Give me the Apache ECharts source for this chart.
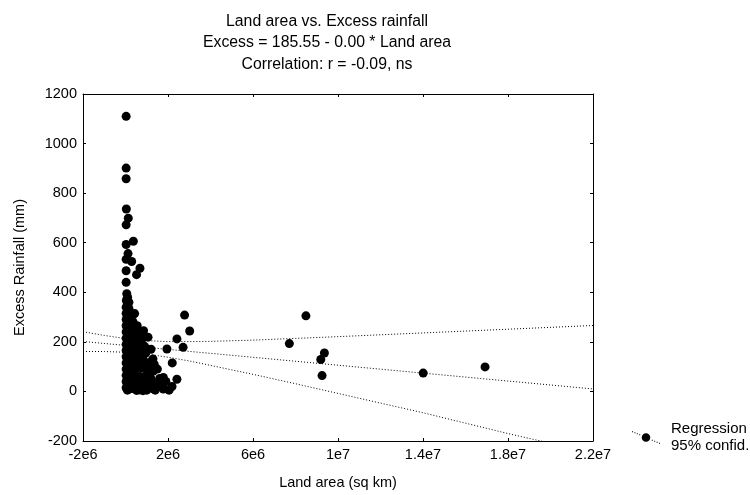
<!DOCTYPE html>
<html>
<head>
<meta charset="utf-8">
<title>Land area vs. Excess rainfall</title>
<script src="https://cdn.jsdelivr.net/npm/echarts@6/dist/echarts.min.js"></script>
<style>
  html, body { margin: 0; padding: 0; background: #fff; }
  #chart { width: 750px; height: 495px; }
</style>
</head>
<body>
<div id="chart"></div>
<script>
// Land area (sq km) of each country and its excess rainfall (mm)
const landArea = [
  30000, 30000, 30000, 40000, 30000, 30000, 30000, 30000, 30000, 60000,
  40000, 30000, 30000, 30000, 30000, 30000, 30000, 30000, 30000, 30000,
  30000, 30000, 30000, 30000, 30000, 130000, 120000, 100000, 90000, 90000,
  90000, 90000, 90000, 90000, 90000, 90000, 90000, 90000, 90000, 90000,
  90000, 90000, 90000, 370000, 290000, 680000, 520000, 160000, 160000, 160000,
  160000, 160000, 160000, 160000, 160000, 160000, 160000, 160000, 160000, 160000,
  160000, 160000, 370000, 430000, 350000, 300000, 300000, 280000, 300000, 280000,
  300000, 280000, 300000, 510000, 510000, 480000, 500000, 480000, 500000, 480000,
  520000, 740000, 700000, 680000, 700000, 650000, 1060000, 900000, 820000, 1060000,
  980000, 820000, 1290000, 1230000, 1310000, 1210000, 1610000, 1780000, 1760000, 1780000,
  2190000, 2420000, 2200000, 1950000, 2420000, 2710000, 2780000, 3020000, 1290000, 1100000,
  900000, 680000, 650000, 850000, 600000, 750000, 900000, 1000000, 1150000, 1400000,
  1500000, 1200000, 800000, 650000, 400000, 1000000, 1400000, 600000, 850000, 1150000,
  400000, 550000, 750000, 950000, 1350000, 1600000, 1900000, 2050000, 7710000, 8490000,
  9360000, 9190000, 9250000, 14010000, 16920000
];
const excessRainfall = [
  1110, 901, 858, 736, 672, 593, 533, 487, 440, 394,
  367, 340, 315, 290, 265, 240, 215, 190, 165, 140,
  115, 90, 65, 40, 15, 699, 556, 380, 355, 330,
  305, 280, 255, 230, 205, 180, 155, 130, 105, 80,
  55, 30, 5, 606, 524, 497, 471, 360, 335, 310,
  285, 260, 235, 210, 185, 160, 135, 110, 85, 60,
  35, 10, 312, 314, 281, 240, 205, 170, 135, 100,
  70, 40, 12, 248, 195, 160, 125, 90, 60, 30,
  4, 95, 150, 60, 28, 6, 219, 182, 142, 92,
  23, 3, 131, 122, 82, 49, 52, 56, 16, 10,
  20, 49, 115, 171, 212, 178, 308, 244, 11, 40,
  60, 242, 215, 245, 190, 170, 120, 70, 100, 30,
  90, 170, 230, 120, 100, 5, 5, 40, 40, 60,
  220, 265, 205, 155, 110, 30, 40, 5, 193, 305,
  155, 129, 64, 74, 99
];

// Fitted line: Excess = 185.55 - 0.00 * Land area (slope rounds to 0.00)
const regLand = [-2e6, 0, 2.2e7];
const regExcess = [201.5, 185.55, 10.0];

// 95% confidence band around the fitted line
const bandLand = [-2e6, -1e6, 0, 5e5, 1e6, 2e6, 3e6, 4e6, 6e6, 8e6, 1e7, 1.4e7, 1.8e7, 2.2e7];
const bandUpper = [241, 226, 213, 208, 205, 201, 201, 202, 207, 214, 221, 236, 251, 266];
const bandLower = [161, 161, 158, 155, 151, 138, 123, 105, 69, 31, -8, -86, -170, -248];

const titleLines = [
  'Land area vs. Excess rainfall',
  'Excess = 185.55 - 0.00 * Land area',
  'Correlation: r = -0.09, ns'
];
const legendLines = ['Regression', '95% confid.'];

const zip = (xs, ys) => xs.map((x, i) => [x, ys[i]]);

// Tick labels in compact exponent form: -2e6, 2e6, 1e7, 1.4e7 ...
function expLabel(v) {
  if (v === 0) return '0';
  const e = Math.floor(Math.log10(Math.abs(v)) + 1e-9);
  const m = Math.round(v / Math.pow(10, e) * 100) / 100;
  return m + 'e' + e;
}

const FONT = '"Liberation Sans", Arial, sans-serif';
const dotted = { color: '#000', width: 1, type: [1, 2] };
const frameLine = { show: true, onZero: false, lineStyle: { color: '#000', width: 1 } };
const frameTick = { show: true, inside: true, length: 3, lineStyle: { color: '#000' } };

// Legend icon: dotted diagonal stroke with a filled dot in the middle
const legendIcon = 'path://M0,0h1v1h-1z M2.4,1h1v1h-1z M4.8,2.1h1v1h-1z M7.2,3.1h1v1h-1z ' +
  'M19.8,8.5h1v1h-1z M22.2,9.5h1v1h-1z M24.6,10.5h1v1h-1z M27,11.6h1v1h-1z ' +
  'M9.7,6.3a4.3,4.3 0 1,0 8.6,0a4.3,4.3 0 1,0 -8.6,0z';

const chart = echarts.init(document.getElementById('chart'), null, { renderer: 'canvas' });

chart.setOption({
  animation: false,
  backgroundColor: '#fff',
  title: {
    text: titleLines.join('\n'),
    left: 327,
    top: 11,
    textAlign: 'center',
    padding: 0,
    textStyle: { fontFamily: FONT, fontSize: 15.8, fontWeight: 'normal', color: '#000', lineHeight: 21.3 }
  },
  legend: {
    left: 632,
    top: 412,
    padding: 0,
    selectedMode: false,
    itemWidth: 28,
    itemHeight: 13,
    data: [{ name: 'Regression', icon: legendIcon, itemStyle: { color: '#000' } }],
    formatter: () => legendLines.join('\n'),
    textStyle: { fontFamily: FONT, fontSize: 15, color: '#000', lineHeight: 17, padding: [17, 0, 0, 6] }
  },
  grid: { left: 83, right: 157, top: 94, bottom: 49, containLabel: false },
  xAxis: [
    {
      type: 'value',
      min: -2e6,
      max: 2.2e7,
      interval: 4e6,
      name: 'Land area (sq km)',
      nameLocation: 'middle',
      nameGap: 34,
      nameTextStyle: { fontFamily: FONT, fontSize: 14.5, color: '#000' },
      splitLine: { show: false },
      axisLine: frameLine,
      axisTick: frameTick,
      axisLabel: { margin: 6, fontFamily: FONT, fontSize: 14.5, color: '#000', formatter: expLabel }
    },
    {
      // top edge of the box
      type: 'value', position: 'top', min: -2e6, max: 2.2e7, interval: 4e6,
      axisLine: frameLine, axisTick: frameTick,
      axisLabel: { show: false }, splitLine: { show: false }
    }
  ],
  yAxis: [
    {
      type: 'value',
      min: -200,
      max: 1200,
      interval: 200,
      name: 'Excess Rainfall (mm)',
      nameLocation: 'middle',
      nameGap: 56,
      nameTextStyle: { fontFamily: FONT, fontSize: 14.5, color: '#000' },
      splitLine: { show: false },
      axisLine: frameLine,
      axisTick: frameTick,
      axisLabel: { margin: 6, fontFamily: FONT, fontSize: 14.5, color: '#000', formatter: v => String(v) }
    },
    {
      // right edge of the box
      type: 'value', position: 'right', min: -200, max: 1200, interval: 200,
      axisLine: frameLine, axisTick: frameTick,
      axisLabel: { show: false }, splitLine: { show: false }
    }
  ],
  series: [
    {
      name: 'Regression',
      type: 'line',
      data: zip(regLand, regExcess),
      symbol: 'none',
      lineStyle: dotted,
      itemStyle: { color: '#000' },
      z: 1
    },
    {
      name: '95% upper',
      type: 'line',
      data: zip(bandLand, bandUpper),
      symbol: 'none',
      lineStyle: dotted,
      z: 1
    },
    {
      name: '95% lower',
      type: 'line',
      data: zip(bandLand, bandLower),
      symbol: 'none',
      lineStyle: dotted,
      z: 1
    },
    {
      name: 'Countries',
      type: 'scatter',
      data: zip(landArea, excessRainfall),
      symbol: 'circle',
      symbolSize: 9,
      itemStyle: { color: '#000', opacity: 1 },
      z: 3
    }
  ]
});
</script>
</body>
</html>
